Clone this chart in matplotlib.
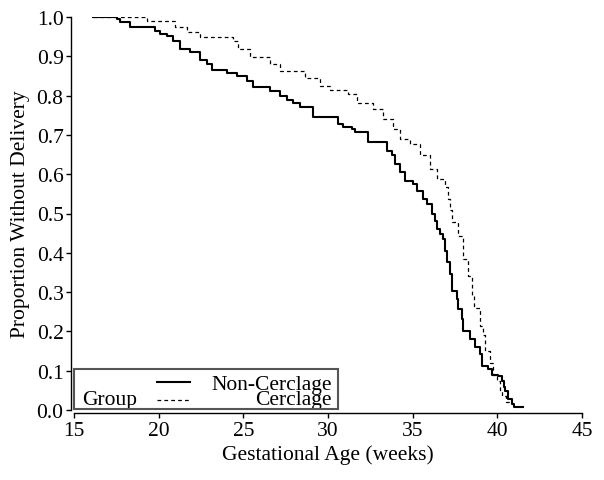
import numpy as np
import matplotlib
matplotlib.use('Agg')
from matplotlib import pyplot as plt
from matplotlib.patches import Rectangle
from matplotlib.lines import Line2D

# Kaplan-Meier steps (weeks, proportion)
t_non = [16.1, 17.54, 17.72, 18.31, 19.78, 20.08, 20.49, 20.85, 21.26, 21.85,
         22.44, 22.86, 23.15, 24.04, 24.63, 25.22, 25.57, 26.58, 27.17, 27.58,
         27.94, 28.35, 29.12, 30.59, 30.89, 31.42, 31.6, 32.37, 33.49, 33.78,
         33.96, 34.26, 34.55, 35.02, 35.26, 35.61, 35.85, 36.15, 36.32, 36.44,
         36.62, 36.8, 36.91, 37.03, 37.21, 37.33, 37.62, 37.68, 37.92, 37.98,
         38.39, 38.69, 38.98, 39.1, 39.45, 39.69, 40.04, 40.28, 40.4, 40.46,
         40.63, 40.87, 40.99, 41.52]
s_non = [1.0, 0.995, 0.987, 0.975, 0.965, 0.958, 0.952, 0.94, 0.918, 0.91,
         0.89, 0.88, 0.865, 0.858, 0.85, 0.837, 0.822, 0.812, 0.8, 0.79,
         0.78, 0.77, 0.745, 0.728, 0.72, 0.715, 0.707, 0.682, 0.66, 0.65,
         0.625, 0.605, 0.583, 0.575, 0.557, 0.537, 0.524, 0.5, 0.48, 0.46,
         0.447, 0.435, 0.405, 0.377, 0.346, 0.303, 0.282, 0.257, 0.232, 0.2,
         0.18, 0.16, 0.142, 0.112, 0.104, 0.09, 0.087, 0.075, 0.058, 0.048,
         0.028, 0.015, 0.008, 0.008]

t_cer = [16.1, 19.31, 20.97, 21.67, 22.44, 24.39, 24.69, 25.4, 26.58, 27.17,
         28.64, 29.53, 30.12, 31.18, 31.7, 32.66, 33.25, 33.84, 34.26, 34.85,
         35.44, 36.03, 36.44, 36.9, 37.1, 37.2, 37.33, 37.68, 37.98, 38.27,
         38.5, 38.63, 38.98, 39.16, 39.28, 39.57, 39.75, 39.98, 40.16, 40.28,
         40.52, 40.8]
s_cer = [1.0, 0.99, 0.975, 0.962, 0.949, 0.94, 0.918, 0.898, 0.88, 0.863,
         0.845, 0.825, 0.815, 0.805, 0.78, 0.766, 0.74, 0.715, 0.69, 0.677,
         0.65, 0.613, 0.588, 0.567, 0.537, 0.51, 0.478, 0.443, 0.384, 0.34,
         0.29, 0.26, 0.214, 0.19, 0.15, 0.12, 0.09, 0.074, 0.048, 0.036,
         0.02, 0.02]

x_ticks = [15, 20, 25, 30, 35, 40, 45]
y_ticks = np.round(np.arange(0, 1.01, 0.1), 1)

plt.rcParams['font.family'] = ['Liberation Serif', 'DejaVu Serif']

fig = plt.figure(figsize=(6.04, 4.81), dpi=100)
ax = fig.add_axes([74 / 604, 70 / 481, 508 / 604, 393 / 481])

ax.plot(t_non, s_non, drawstyle='steps-post', color='black', lw=1.5)
ax.plot(t_cer, s_cer, drawstyle='steps-post', color='black', lw=0.9,
        dashes=(3, 2.5))

ax.set_xlim(15, 45)
ax.set_ylim(0, 1)
ax.set_xticks(x_ticks)
ax.set_yticks(y_ticks)
ax.set_yticklabels(['%.1f' % v for v in y_ticks])
ax.tick_params(labelsize=15.5, length=3.5, width=1, direction='out', pad=2)
for side in ['top', 'right']:
    ax.spines[side].set_visible(False)
ax.spines['left'].set_position(('outward', 2))
ax.spines['bottom'].set_position(('outward', 2.5))
ax.spines['left'].set_linewidth(1)
ax.spines['bottom'].set_linewidth(1)

ax.set_xlabel('Gestational Age (weeks)', fontsize=15.5, labelpad=3)
ax.set_ylabel('Proportion Without Delivery', fontsize=15.5, labelpad=5)

# legend box in SAS style
tr = ax.transAxes
ax.add_patch(Rectangle((0.0, 0.0025), 0.52, 0.102, transform=tr, fill=False,
                       edgecolor='#555555', lw=1.5, clip_on=False, zorder=5))
ax.text(0.016, 0.015, 'Group', transform=tr, fontsize=15.5, ha='left',
        va='baseline')
ax.add_line(Line2D([0.163, 0.228], [0.071, 0.071], transform=tr,
                   color='black', lw=1.5))
ax.add_line(Line2D([0.163, 0.228], [0.026, 0.026], transform=tr,
                   color='black', lw=0.9, dashes=(3, 2.5)))
ax.text(0.508, 0.053, 'Non-Cerclage', transform=tr, fontsize=15.5,
        ha='right', va='baseline')
ax.text(0.508, 0.015, 'Cerclage', transform=tr, fontsize=15.5,
        ha='right', va='baseline')

fig.savefig('out.png', dpi=100)
